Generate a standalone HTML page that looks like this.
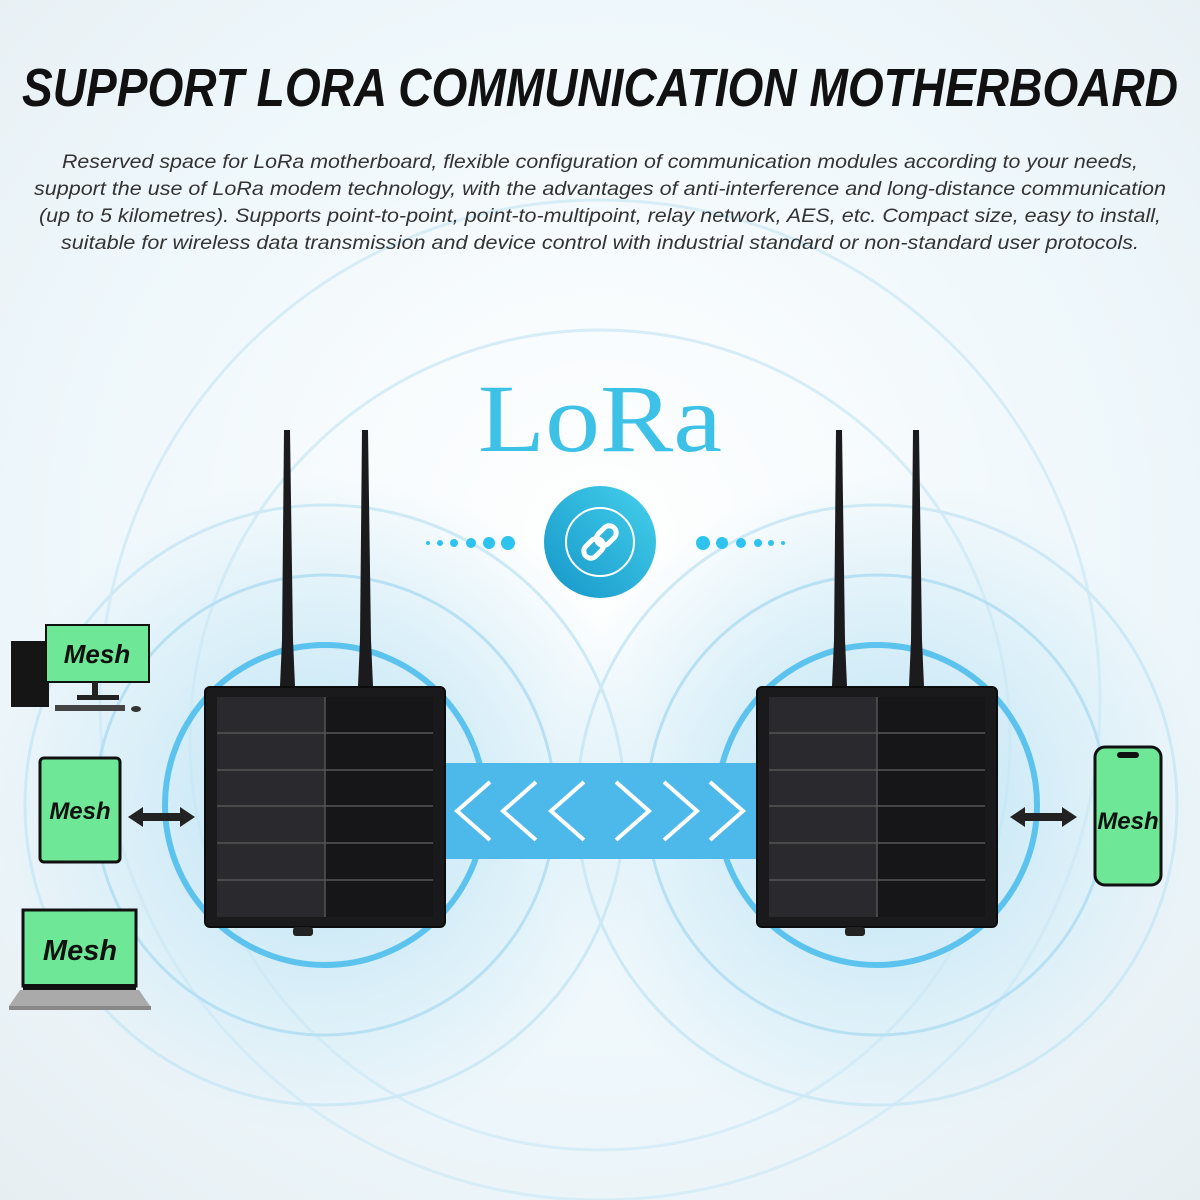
<!DOCTYPE html>
<html><head><meta charset="utf-8"><style>
html,body{margin:0;padding:0;width:1200px;height:1200px;overflow:hidden;background:#fff}
</style></head><body>
<svg width="1200" height="1200" viewBox="0 0 1200 1200" xmlns="http://www.w3.org/2000/svg">
<defs>
<radialGradient id="bg" cx="50%" cy="45%" r="75%">
<stop offset="0" stop-color="#ffffff"/><stop offset="0.6" stop-color="#eef7fb"/><stop offset="1" stop-color="#e6eef2"/>
</radialGradient>
<radialGradient id="glowL" cx="325" cy="805" r="330" gradientUnits="userSpaceOnUse">
<stop offset="0" stop-color="#a9dcf2"/><stop offset="0.5" stop-color="#cbe9f6"/><stop offset="1" stop-color="#cbe9f6" stop-opacity="0"/>
</radialGradient>
<radialGradient id="glowR" cx="877" cy="805" r="330" gradientUnits="userSpaceOnUse">
<stop offset="0" stop-color="#a9dcf2"/><stop offset="0.5" stop-color="#cbe9f6"/><stop offset="1" stop-color="#cbe9f6" stop-opacity="0"/>
</radialGradient>
<linearGradient id="ball" x1="0" y1="1" x2="1" y2="0">
<stop offset="0" stop-color="#1596c8"/><stop offset="1" stop-color="#45d0ec"/>
</linearGradient>
</defs>
<rect width="1200" height="1200" fill="url(#bg)"/>
<g fill="none" stroke="#d6edf7" stroke-width="3">
<circle cx="600" cy="700" r="500"/><circle cx="600" cy="740" r="410"/>
</g>
<rect x="0" y="470" width="1200" height="700" fill="url(#glowL)" opacity="0.7"/>
<rect x="0" y="470" width="1200" height="700" fill="url(#glowR)" opacity="0.7"/>
<g fill="none" stroke="#b7e0f3" stroke-width="3">
<circle cx="325" cy="805" r="230"/><circle cx="877" cy="805" r="230"/>
<circle cx="325" cy="805" r="300" stroke="#cde9f5"/><circle cx="877" cy="805" r="300" stroke="#cde9f5"/>
</g>
<g fill="none" stroke="#5cc3ee" stroke-width="6">
<circle cx="325" cy="805" r="160"/><circle cx="877" cy="805" r="160"/>
</g>

<text x="600" y="106" text-anchor="middle" font-family="Liberation Sans, sans-serif" font-weight="bold" font-style="italic" font-size="54" fill="#111" textLength="1156" lengthAdjust="spacingAndGlyphs">SUPPORT LORA COMMUNICATION MOTHERBOARD</text>
<g font-family="Liberation Sans, sans-serif" font-style="italic" font-size="19" fill="#333" text-anchor="middle">
<text x="600" y="168" textLength="1076" lengthAdjust="spacingAndGlyphs">Reserved space for LoRa motherboard, flexible configuration of communication modules according to your needs,</text>
<text x="600" y="195" textLength="1132" lengthAdjust="spacingAndGlyphs">support the use of LoRa modem technology, with the advantages of anti-interference and long-distance communication</text>
<text x="600" y="222" textLength="1122" lengthAdjust="spacingAndGlyphs">(up to 5 kilometres). Supports point-to-point, point-to-multipoint, relay network, AES, etc. Compact size, easy to install,</text>
<text x="600" y="249" textLength="1078" lengthAdjust="spacingAndGlyphs">suitable for wireless data transmission and device control with industrial standard or non-standard user protocols.</text>
</g>
<text x="600" y="451" text-anchor="middle" font-family="Liberation Serif, serif" font-size="96" fill="#3dc1e7" textLength="244" lengthAdjust="spacingAndGlyphs">LoRa</text>

<circle cx="600" cy="542" r="56" fill="url(#ball)"/>
<circle cx="600" cy="542" r="34" fill="none" stroke="#fff" stroke-width="2"/>
<g stroke="#fff" stroke-width="5" fill="none" stroke-linecap="round" transform="rotate(-45 600 542)">
<rect x="580" y="535" width="22" height="14" rx="7"/><rect x="598" y="535" width="22" height="14" rx="7"/>
</g>
<g fill="#2ec3ee">
<circle cx="428" cy="543" r="2"/><circle cx="440" cy="543" r="3"/><circle cx="454" cy="543" r="4"/><circle cx="471" cy="543" r="5"/><circle cx="489" cy="543" r="6"/><circle cx="508" cy="543" r="7"/>
<circle cx="703" cy="543" r="7"/><circle cx="722" cy="543" r="6"/><circle cx="741" cy="543" r="5"/><circle cx="758" cy="543" r="4"/><circle cx="771" cy="543" r="3"/><circle cx="783" cy="543" r="2"/>
</g>

<!-- band -->
<rect x="440" y="763" width="322" height="96" fill="#4db8ea"/>
<g fill="none" stroke="#fff" stroke-width="4">
<polyline points="490,782 457,811 490,840"/><polyline points="536,782 503,811 536,840"/><polyline points="584,782 551,811 584,840"/>
<polyline points="616,782 649,811 616,840"/><polyline points="664,782 697,811 664,840"/><polyline points="710,782 743,811 710,840"/>
</g>

<!-- antennas -->
<g fill="#1b1b1d">
<path d="M284 430 L290 430 L293 640 L295 686 L280 686 L282 640Z"/>
<path d="M362 430 L368 430 L371 640 L373 686 L358 686 L360 640Z"/>
<path d="M836 430 L842 430 L845 640 L847 686 L832 686 L834 640Z"/>
<path d="M913 430 L919 430 L922 640 L924 686 L909 686 L911 640Z"/>
</g>

<!-- devices -->
<g id="dev">
<rect x="205" y="687" width="240" height="240" rx="5" fill="#1a1a1c" stroke="#0c0c0c" stroke-width="2"/>
<rect x="217" y="697" width="216" height="220" fill="#2a2a2e"/>
<rect x="325" y="697" width="108" height="220" fill="#161619"/>
<g stroke="#555" stroke-width="1.5">
<line x1="325" y1="697" x2="325" y2="917"/>
<line x1="217" y1="733" x2="433" y2="733"/><line x1="217" y1="770" x2="433" y2="770"/><line x1="217" y1="806" x2="433" y2="806"/><line x1="217" y1="843" x2="433" y2="843"/><line x1="217" y1="880" x2="433" y2="880"/>
</g>
<rect x="293" y="927" width="20" height="9" rx="3" fill="#222"/>
</g>
<use href="#dev" transform="translate(552 0)"/>

<!-- arrows -->
<g fill="#222">
<path d="M128 817 L143 807 L143 813 L180 813 L180 807 L195 817 L180 827 L180 821 L143 821 L143 827Z"/>
<path d="M1010 817 L1025 807 L1025 813 L1062 813 L1062 807 L1077 817 L1062 827 L1062 821 L1025 821 L1025 827Z"/>
</g>

<!-- mesh devices -->
<g font-family="Liberation Sans, sans-serif" font-weight="bold" font-style="italic" fill="#111" text-anchor="middle">
<rect x="11" y="641" width="38" height="66" fill="#151515"/>
<rect x="46" y="625" width="103" height="57" fill="#6ee896" stroke="#111" stroke-width="2"/>
<rect x="92" y="682" width="6" height="14" fill="#222"/><rect x="77" y="695" width="42" height="5" fill="#222"/>
<rect x="55" y="705" width="70" height="6" fill="#444"/><ellipse cx="136" cy="709" rx="5" ry="3" fill="#333"/>
<text x="97" y="663" font-size="26">Mesh</text>
<rect x="40" y="758" width="80" height="104" rx="4" fill="#6ee896" stroke="#111" stroke-width="3"/>
<text x="80" y="819" font-size="24">Mesh</text>
<rect x="23" y="910" width="113" height="76" fill="#6ee896" stroke="#111" stroke-width="3"/>
<rect x="23" y="984" width="113" height="6" fill="#111"/>
<path d="M20 990 L139 990 L150 1006 L9 1006Z" fill="#aaa"/><rect x="9" y="1006" width="142" height="4" fill="#888"/>
<text x="80" y="960" font-size="29">Mesh</text>
<rect x="1095" y="747" width="66" height="138" rx="10" fill="#6ee896" stroke="#111" stroke-width="3"/>
<rect x="1117" y="752" width="22" height="6" rx="3" fill="#111"/>
<text x="1128" y="829" font-size="24">Mesh</text>
</g>
</svg>
</body></html>
